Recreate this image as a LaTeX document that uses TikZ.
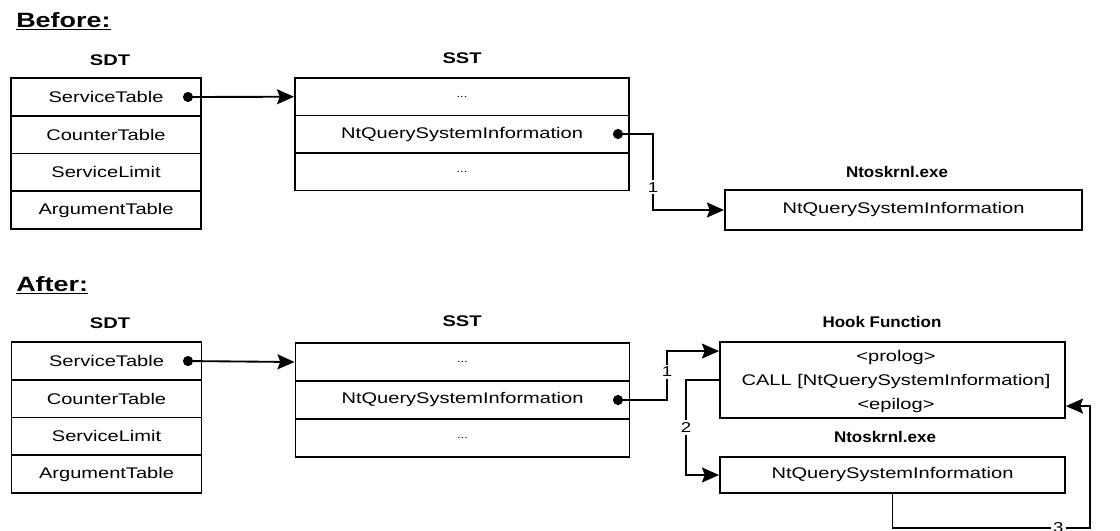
\documentclass[tikz,border=0pt]{standalone}
\usepackage{fontspec}
\setmainfont{Liberation Sans}[FakeStretch=1.3]
\newfontfamily\narrowfont{Liberation Sans}[FakeStretch=1.1]
\usetikzlibrary{arrows.meta}

\begin{document}
\begin{tikzpicture}[x=0.7pt, y=-0.7pt,
  >={Stealth[length=12pt, width=10.5pt, inset=2pt]},
  every node/.style={font=\fontsize{10.8}{13}\selectfont},
  cell/.style={draw, line width=1.3pt, inner sep=0pt},
  sdtrow/.style={cell, minimum width=133pt, minimum height=26.4pt},
  sstrow/.style={cell, minimum width=233.8pt, minimum height=26.3pt},
  head/.style={font=\fontsize{10.8}{13}\selectfont\bfseries},
  narrowhead/.style={font=\narrowfont\fontsize{10.8}{13}\selectfont\bfseries},
  title/.style={anchor=base west, inner sep=0pt, font=\fontsize{14.5}{17}\selectfont\bfseries},
  link/.style={{Circle[length=7pt]}->, line width=1.3pt},
  flow/.style={->, line width=1.3pt},
  num/.style={fill=white, inner sep=1.5pt, font=\fontsize{10}{12}\selectfont},
  dots/.style={font=\fontsize{7}{8}\selectfont}
]
\useasboundingbox (0,0) rectangle (1120,531);

% before hooking
\node[title] (before) at (16,27) {\underline{Before:}};
\node[head] (bsdtlab) at (110,60) {SDT};
\foreach \t [count=\i] in {ServiceTable,CounterTable,ServiceLimit,ArgumentTable}
  \node[sdtrow] (bsdt\i) at (106,{96.9+37.75*(\i-1)}) {\t};
\node[head] (bsstlab) at (462,58) {SST};
\node[sstrow, dots] (bsst1) at (462,96.75) {...};
\node[sstrow] (bsst2) at (462,134.25) {NtQuerySystemInformation};
\node[sstrow, dots] (bsst3) at (462,171.75) {...};
\node[narrowhead] (bntlab) at (897,172) {Ntoskrnl.exe};
\node[cell, minimum width=250pt, minimum height=28pt] (bnt) at (903.5,210)
  {NtQuerySystemInformation};
\coordinate (bdot1) at (183,97);
\coordinate (bdot2) at (613,134);
\draw[link] (bdot1) -- (bsst1.west);
\draw[link] (bdot2) -- ++(40,0) |- node[num, pos=0.35] {1} (bnt.west);

% after hooking
\node[title] (after) at (16,291) {\underline{After:}};
\node[head] (asdtlab) at (110,323) {SDT};
\foreach \t [count=\i] in {ServiceTable,CounterTable,ServiceLimit,ArgumentTable}
  \node[sdtrow] (asdt\i) at (106.5,{360.9+37.75*(\i-1)}) {\t};
\node[head] (asstlab) at (462,321) {SST};
\node[sstrow, dots] (asst1) at (462.5,362) {...};
\node[sstrow] (asst2) at (462.5,400) {NtQuerySystemInformation};
\node[sstrow, dots] (asst3) at (462.5,438) {...};
\node[narrowhead] (hooklab) at (882,322) {Hook Function};
\node[cell, minimum width=241.5pt, minimum height=53.2pt] (hook) at (892.5,380) {};
\node[align=center, font=\fontsize{10.8}{16.8}\selectfont] (hooktext) at (896,382)
  {<prolog>\\CALL [NtQuerySystemInformation]\\<epilog>};
\node[narrowhead] (antlab) at (885,437) {Ntoskrnl.exe};
\node[cell, minimum width=241.5pt, minimum height=25.2pt] (ant) at (892.5,475)
  {NtQuerySystemInformation};
\coordinate (adot1) at (183,361);
\coordinate (adot2) at (613,400);
\coordinate (back) at (1090,528);
\draw[link] (adot1) -- (asst1.west);
\draw[link] (adot2) -- ++(54,0) |- node[num, pos=0.29] {1} ([yshift=-7pt]hook.north west);
\draw[flow] (hook.west) -- ++(-33,0) |- node[num, pos=0.25] {2} (ant.west);
\draw[flow] (ant.south) |- node[num, pos=0.92] {3} (back) |- ([yshift=9pt]hook.south east);
\end{tikzpicture}
\end{document}
